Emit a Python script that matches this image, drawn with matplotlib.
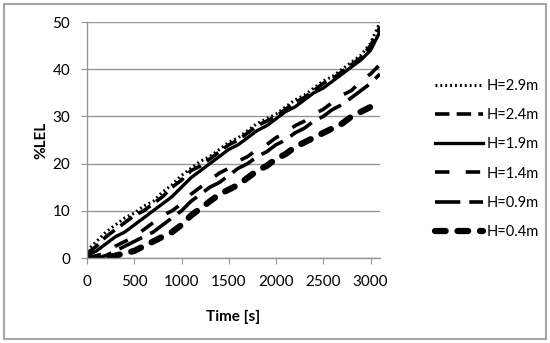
import matplotlib
matplotlib.use("Agg")
import matplotlib.pyplot as plt
from matplotlib.patches import Rectangle

plt.rcParams['font.family'] = ['Lato', 'DejaVu Sans']

time_s = [0, 100, 200, 300, 400, 500, 600, 700, 800, 900, 1000, 1100, 1200, 1300, 1400, 1500,
          1600, 1700, 1800, 1900, 2000, 2100, 2200, 2300, 2400, 2500, 2600, 2700, 2800, 2900, 3000, 3100]

h29 = [1.5, 3.5, 5.5, 7, 8.5, 9.5, 11, 12, 14, 15.5, 17.5, 19, 20.5, 21.5, 23, 24.5,
       25.5, 27, 28.5, 29.5, 30.5, 32, 33.5, 34.5, 36, 37.5, 38.5, 40, 41.5, 43, 45.5, 50]
h24 = [1, 2.5, 4.5, 6, 7.5, 9, 10, 11.5, 13, 15, 16.5, 18.5, 19.5, 21, 22.5, 24,
       25, 26.5, 28, 29, 30, 31.5, 33, 34, 35.5, 37, 38, 39.5, 41, 42.5, 45, 49]
h19 = [0.5, 1.5, 3, 4.5, 5.5, 7, 8.5, 10, 11.5, 13, 15, 17, 18.5, 20, 21.5, 23,
       24, 25.5, 27, 28, 29.5, 31, 32, 33.5, 35, 36, 37.5, 39, 40.5, 42, 44, 48]
h14 = [0, 0.5, 1, 2.5, 3.5, 4.5, 6, 7.5, 9, 10, 11.5, 13.5, 15, 16.5, 18, 19,
       20.5, 21.5, 23, 24, 25.5, 26.5, 28, 29, 30.5, 31.5, 33, 34.5, 35.5, 37.5, 39, 41]
h09 = [0, 0, 0.5, 1.5, 2.5, 3.5, 4.5, 5.5, 7, 8.5, 10, 12, 13.5, 15, 16, 17.5,
       19, 20, 21.5, 22.5, 24, 25, 26.5, 27.5, 29, 30, 31.5, 32.5, 34, 35.5, 37, 39]
h04 = [0, 0, 0, 0.5, 1, 1.5, 2.5, 3.5, 4.5, 5.5, 7, 9, 10.5, 12, 13.5, 14.5,
       15.5, 17, 18.5, 19.5, 21, 22, 23.5, 24.5, 25.5, 26.5, 27.5, 28.5, 30, 31, 32, 33]

labels = ["H=2.9m", "H=2.4m", "H=1.9m", "H=1.4m", "H=0.9m", "H=0.4m"]
x_ticks = [0, 500, 1000, 1500, 2000, 2500, 3000]
y_ticks = [0, 10, 20, 30, 40, 50]

fig = plt.figure(figsize=(5.5, 3.43), dpi=100)
ax = fig.add_axes([87/550, 85/343, (380-87)/550, (258-22)/343])

series = [h29, h24, h19, h14, h09, h04]
styles = [
    dict(lw=2.2, ls=(0, (0.6, 1.0)), dash_capstyle='butt'),
    dict(lw=2.6, ls=(0, (4, 2))),
    dict(lw=2.4, ls='-'),
    dict(lw=2.6, ls=(0, (4, 4.5))),
    dict(lw=2.6, ls=(0, (7, 2.5))),
    dict(lw=4.5, ls=(0, (1.7, 1.9)), dash_capstyle='round'),
]
for vals, lab, st in zip(series, labels, styles):
    ax.plot(time_s, vals, color='black', label=lab, **st)

ax.set_xlim(0, 3100)
ax.set_ylim(0, 50)
ax.set_xticks(x_ticks)
ax.set_yticks(y_ticks)
ax.grid(axis='y', color='#969696', lw=1.0)
ax.set_axisbelow(True)
for s in ['top', 'right']:
    ax.spines[s].set_visible(False)
for s in ['left', 'bottom']:
    ax.spines[s].set_color('#969696')
    ax.spines[s].set_linewidth(1.0)
ax.tick_params(axis='both', colors='#969696', labelcolor='black', labelsize=11, length=4)
ax.tick_params(axis='y', pad=8)
ax.tick_params(axis='x', pad=8)
ax.set_xlabel("Time [s]", fontsize=11, fontweight='bold', labelpad=15)
ax.set_ylabel("%LEL", fontsize=11, fontweight='bold', labelpad=3)

leg = ax.legend(loc='upper left', bbox_to_anchor=(435/550, 1 - 79/343), bbox_transform=fig.transFigure,
                frameon=False, fontsize=10.5, handlelength=3.3, handletextpad=0.27, labelspacing=1.04,
                borderaxespad=0, borderpad=0)

fig.add_artist(Rectangle((4/550, 4/343), 542/550, 335/343, transform=fig.transFigure,
                         fill=False, edgecolor='#a6a6a6', lw=1.5))

fig.savefig("out.png", dpi=100)
